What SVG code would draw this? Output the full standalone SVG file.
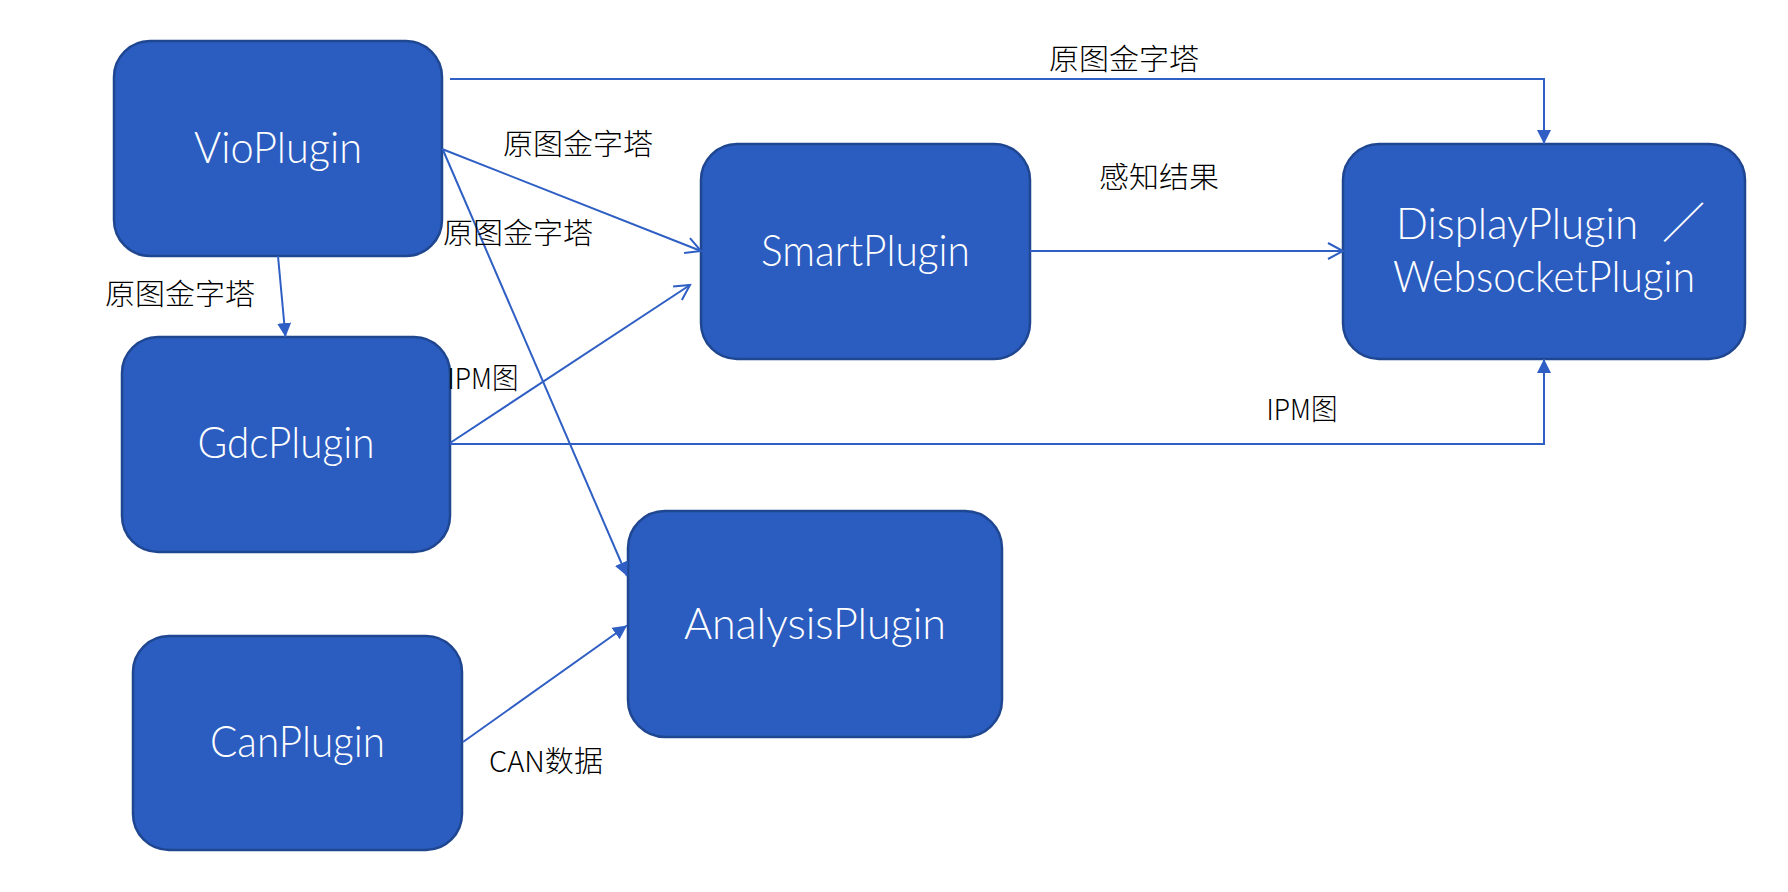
<svg xmlns="http://www.w3.org/2000/svg" width="1788" height="892" viewBox="0 0 1788 892">
<style>
.box{fill:#2B5CBF;stroke:#1F4690;stroke-width:2.5}
.nt{font-family:Lato,"Noto Sans","Liberation Sans",sans-serif;font-weight:300;font-size:43px;fill:#ffffff}
.ln{fill:none;stroke:#2F5FC4;stroke-width:2}
.lb{font-family:"Noto Sans CJK SC","Liberation Sans",sans-serif;font-weight:300;font-size:29px;fill:#000000}
</style>
<defs>
<marker id="fa" markerUnits="userSpaceOnUse" markerWidth="16" markerHeight="16" refX="14" refY="7" orient="auto">
<path d="M0,0 L14,7 L0,14 z" fill="#2F5FC4"/>
</marker>
<marker id="oa" markerUnits="userSpaceOnUse" markerWidth="20" markerHeight="20" refX="16" refY="9" orient="auto">
<path d="M1,1 L16,9 L1,17" fill="none" stroke="#2F5FC4" stroke-width="2"/>
</marker>
</defs>
<rect width="1788" height="892" fill="#ffffff"/>
<g id="VioPlugin"><rect class="box" x="114" y="41" width="328" height="215" rx="36" ry="36"/><text class="nt" x="278" y="163" text-anchor="middle" textLength="168" lengthAdjust="spacingAndGlyphs">VioPlugin</text></g>
<g id="GdcPlugin"><rect class="box" x="122" y="337" width="328" height="215" rx="36" ry="36"/><text class="nt" x="286" y="458" text-anchor="middle" textLength="177" lengthAdjust="spacingAndGlyphs">GdcPlugin</text></g>
<g id="CanPlugin"><rect class="box" x="133" y="636" width="329" height="214" rx="36" ry="36"/><text class="nt" x="297.5" y="757" text-anchor="middle" textLength="175" lengthAdjust="spacingAndGlyphs">CanPlugin</text></g>
<g id="SmartPlugin"><rect class="box" x="701" y="144" width="329" height="215" rx="36" ry="36"/><text class="nt" x="865.5" y="266" text-anchor="middle" textLength="209" lengthAdjust="spacingAndGlyphs">SmartPlugin</text></g>
<g id="AnalysisPlugin"><rect class="box" x="628" y="511" width="374" height="226" rx="37" ry="37"/><text class="nt" x="815" y="639" text-anchor="middle" textLength="262" lengthAdjust="spacingAndGlyphs">AnalysisPlugin</text></g>
<g id="DisplayPlugin"><rect class="box" x="1343" y="144" width="402" height="215" rx="36" ry="36"/><text class="nt" y="239"><tspan x="1396" textLength="242" lengthAdjust="spacingAndGlyphs">DisplayPlugin</tspan><tspan x="1662" font-family="Noto Sans CJK SC,sans-serif">／</tspan></text><text class="nt" x="1544" y="292" text-anchor="middle" textLength="302" lengthAdjust="spacingAndGlyphs">WebsocketPlugin</text></g>
<g id="connectors">
<polyline class="ln" points="450,79 1544,79 1544,144" marker-end="url(#fa)"/>
<line class="ln" x1="442" y1="149" x2="701" y2="251" marker-end="url(#oa)"/>
<line class="ln" x1="443" y1="150" x2="627" y2="576" marker-end="url(#fa)"/>
<line class="ln" x1="278" y1="256" x2="285.5" y2="337" marker-end="url(#fa)"/>
<line class="ln" x1="450" y1="443" x2="690" y2="285" marker-end="url(#oa)"/>
<polyline class="ln" points="450,444 1544,444 1544,359" marker-end="url(#fa)"/>
<line class="ln" x1="1030" y1="251" x2="1343" y2="251" marker-end="url(#oa)"/>
<line class="ln" x1="463" y1="742" x2="627" y2="625.5" marker-end="url(#fa)"/>
</g>
<g id="labels">
<text class="lb" x="1124" y="70" text-anchor="middle" textLength="150" lengthAdjust="spacingAndGlyphs">原图金字塔</text>
<text class="lb" x="578" y="155" text-anchor="middle" textLength="150" lengthAdjust="spacingAndGlyphs">原图金字塔</text>
<text class="lb" x="518" y="244" text-anchor="middle" textLength="150" lengthAdjust="spacingAndGlyphs">原图金字塔</text>
<text class="lb" x="180" y="305" text-anchor="middle" textLength="150" lengthAdjust="spacingAndGlyphs">原图金字塔</text>
<text class="lb" x="1159" y="188" text-anchor="middle" textLength="120" lengthAdjust="spacingAndGlyphs">感知结果</text>
<text class="lb" x="483" y="389" text-anchor="middle" textLength="71" lengthAdjust="spacingAndGlyphs">IPM图</text>
<text class="lb" x="1302" y="420" text-anchor="middle" textLength="71" lengthAdjust="spacingAndGlyphs">IPM图</text>
<text class="lb" x="546" y="772" text-anchor="middle" textLength="114" lengthAdjust="spacingAndGlyphs">CAN数据</text>
</g>
</svg>
